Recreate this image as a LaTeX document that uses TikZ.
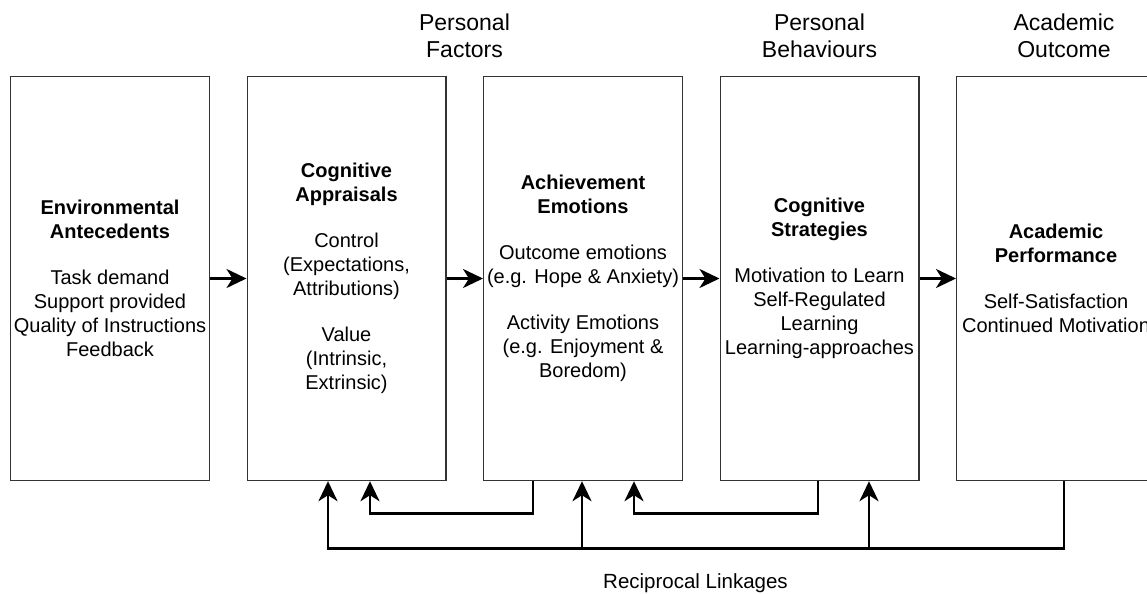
\documentclass[tikz,border=0pt]{standalone}
\usepackage{fontspec}
\setmainfont{Liberation Sans}
\usetikzlibrary{arrows.meta, positioning, calc}

\begin{document}
\begin{tikzpicture}[x=0.5pt, y=-0.5pt,
		box/.style={draw=black!80, line width=0.7pt, minimum width=99.3pt,
			minimum height=202pt, inner sep=0pt, align=center,
			font=\fontsize{10}{12}\selectfont},
		heading/.style={align=center, font=\fontsize{11.5}{13.5}\selectfont},
		link/.style={line width=1.4pt, -{Stealth[length=10pt, width=9.5pt, inset=3pt]}},
		node distance=18.25pt]
		
		\useasboundingbox (0,0) rectangle (1147,594);
		
		% Stages of the model
		\node[box] (env) at (110,278.5) {\textbf{Environmental}\\\textbf{Antecedents}\\[11pt]
			Task demand\\Support provided\\Quality of Instructions\\Feedback};
		\node[box, right=of env] (appr) {\textbf{Cognitive}\\\textbf{Appraisals}\\[11pt]
			Control\\(Expectations,\\Attributions)\\[11pt]Value\\(Intrinsic,\\Extrinsic)};
		\node[box, right=of appr] (emo) {\textbf{Achievement}\\\textbf{Emotions}\\[11pt]
			Outcome emotions\\(e.g. Hope \& Anxiety)\\[11pt]Activity Emotions\\(e.g. Enjoyment \&\\Boredom)};
		\node[box, right=of emo] (strat) {\textbf{Cognitive}\\\textbf{Strategies}\\[11pt]
			Motivation to Learn\\Self-Regulated\\Learning\\Learning-approaches};
		\node[box, right=of strat] (perf) {\textbf{Academic}\\\textbf{Performance}\\[11pt]
			Self-Satisfaction\\Continued Motivation};
		
		% Group headings
		\node[heading] (factors) at (464.5,35.5) {Personal\\Factors};
		\node[heading] (behav) at (819.5,35.5) {Personal\\Behaviours};
		\node[heading] (outcome) at (1064,35.5) {Academic\\Outcome};
		
		% Forward arrows
		\foreach \a/\b in {env/appr, appr/emo, emo/strat, strat/perf}
			\draw[link] (\a) -- (\b);
		
		% Reciprocal linkages underneath
		\draw[link] ($(perf.south)+(8,0)$) -- ++(0,67) -| ($(appr.south)+(-18.5,0)$);
		\draw[link] ($(emo.south)+(-1,67)$) -- ($(emo.south)+(-1,0)$);
		\draw[link] ($(strat.south)+(49.5,67)$) -- ($(strat.south)+(49.5,0)$);
		\draw[link] ($(emo.south)+(-50,0)$) -- ++(0,32) -| ($(appr.south)+(23.5,0)$);
		\draw[link] ($(strat.south)+(-1.5,0)$) -- ++(0,32) -| ($(emo.south)+(51,0)$);
		
		\node[font=\fontsize{10.25}{12}\selectfont] (recip) at (695.5,583.5) {Reciprocal Linkages};
		
	\end{tikzpicture}
\end{document}
